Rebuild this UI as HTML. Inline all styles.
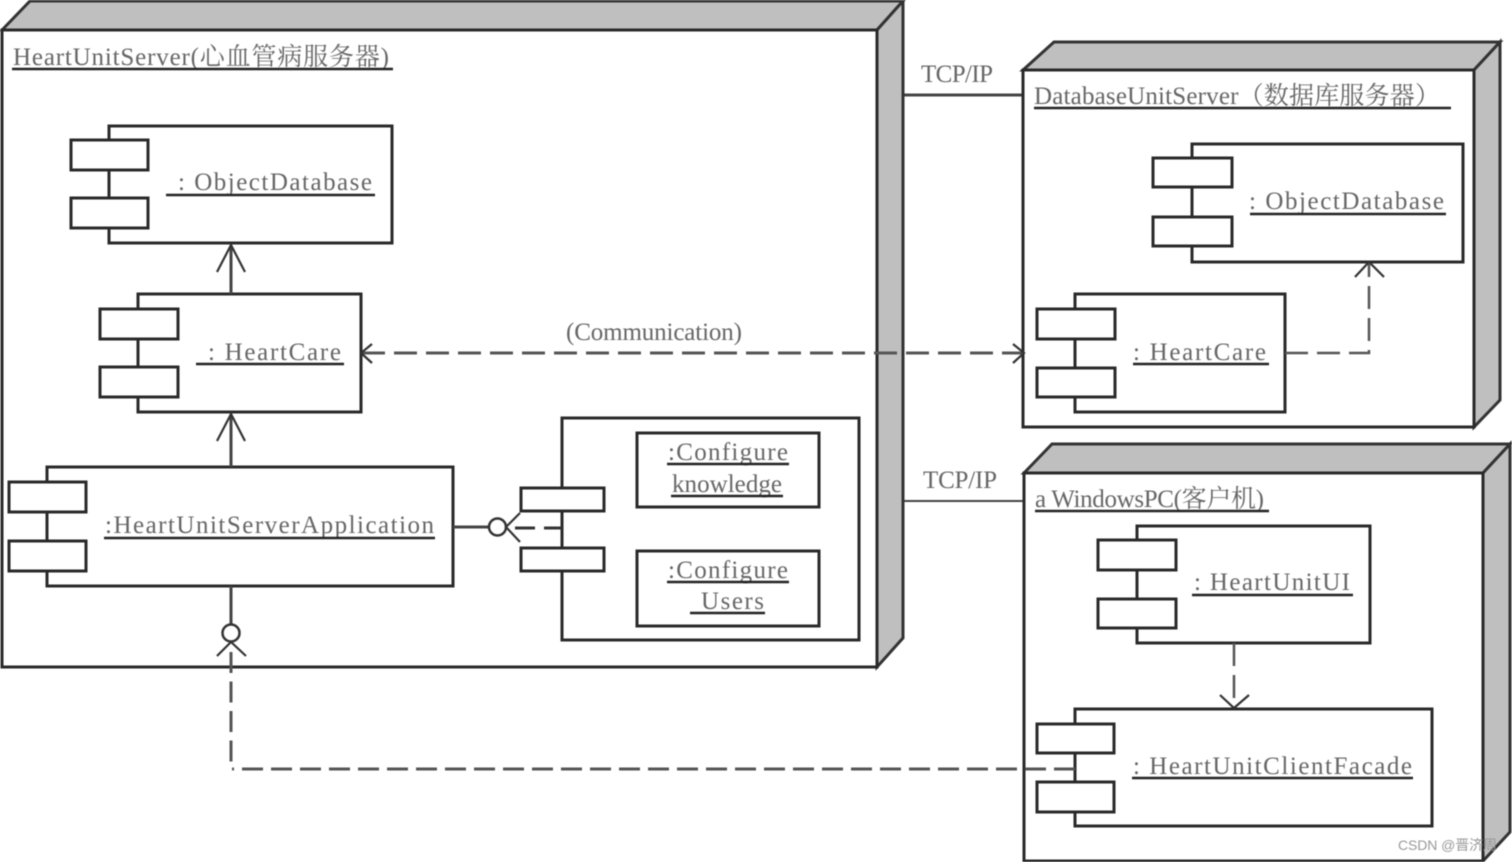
<!DOCTYPE html>
<html><head><meta charset="utf-8">
<style>
html,body{margin:0;padding:0;background:#fff;width:1512px;height:862px;overflow:hidden}
svg{display:block;filter:blur(0.45px)}
text{font-family:"Liberation Serif","Noto Serif CJK SC",serif;font-size:25px;fill:#666}
.n{fill:#bfbfbf;stroke:#333;stroke-width:3;stroke-linejoin:miter}
.f{fill:#fff;stroke:#2a2a2a;stroke-width:3}
.b{fill:#fff;stroke:#2a2a2a;stroke-width:3}
.l{fill:none;stroke:#444;stroke-width:3}
.t{fill:none;stroke:#333;stroke-width:2.2}
.d{fill:none;stroke:#555;stroke-width:3;stroke-dasharray:23 9}
.u{stroke:#222;stroke-width:2.6}
</style></head><body>
<svg width="1512" height="862" viewBox="0 0 1512 862" xmlns="http://www.w3.org/2000/svg">
<!-- connectors between nodes -->
<line class="l" x1="903" y1="95" x2="1023" y2="95"/>
<line class="l" x1="903" y1="501" x2="1024" y2="501" style="stroke-width:2"/>

<!-- Node 1 -->
<polygon class="n" points="2,30 30,1 903,1 877,30"/>
<polygon class="n" points="877,30 903,1 903,638 877,667"/>
<rect class="f" x="2" y="30" width="875" height="637"/>
<text x="13" y="65" textLength="376" lengthAdjust="spacing">HeartUnitServer(心血管病服务器)</text>
<line class="u" x1="12" y1="69" x2="393" y2="69"/>

<!-- C1 -->
<rect class="b" x="109" y="126" width="283" height="117"/>
<rect class="b" x="71" y="140" width="77" height="30"/>
<rect class="b" x="71" y="198" width="77" height="30"/>
<text x="178" y="190" textLength="194" lengthAdjust="spacing">: ObjectDatabase</text>
<line class="u" x1="166" y1="195" x2="375" y2="195"/>

<!-- C2 -->
<rect class="b" x="138" y="294" width="223" height="118"/>
<rect class="b" x="100" y="309" width="78" height="30"/>
<rect class="b" x="100" y="367" width="78" height="30"/>
<text x="208" y="360" textLength="133" lengthAdjust="spacing">: HeartCare</text>
<line class="u" x1="196" y1="364" x2="344" y2="364"/>

<!-- C3 -->
<rect class="b" x="47" y="467" width="406" height="119"/>
<rect class="b" x="9" y="482" width="77" height="30"/>
<rect class="b" x="9" y="541" width="77" height="30"/>
<text x="105" y="533" textLength="329" lengthAdjust="spacing">:HeartUnitServerApplication</text>
<line class="u" x1="104" y1="538" x2="435" y2="538"/>

<!-- C4 -->
<rect class="b" x="562" y="418" width="297" height="222"/>
<rect class="b" x="637" y="433" width="182" height="74"/>
<rect class="b" x="637" y="551" width="182" height="75"/>
<text x="668" y="460" textLength="120" lengthAdjust="spacing">:Configure</text>
<line class="u" x1="667" y1="464" x2="789" y2="464"/>
<text x="672" y="492" textLength="110" lengthAdjust="spacing">knowledge</text>
<line class="u" x1="671" y1="496" x2="783" y2="496"/>
<text x="668" y="578" textLength="120" lengthAdjust="spacing">:Configure</text>
<line class="u" x1="667" y1="582" x2="789" y2="582"/>
<text x="701" y="609" textLength="63" lengthAdjust="spacing">Users</text>
<line class="u" x1="690" y1="613" x2="765" y2="613"/>
<rect class="b" x="521" y="488" width="83" height="23"/>
<rect class="b" x="521" y="548" width="83" height="23"/>

<!-- lollipop C3-C4 -->
<line class="l" x1="453" y1="527" x2="489" y2="527"/>
<circle cx="497.500" cy="527" r="8.500" fill="#fff" stroke="#333" stroke-width="2.500"/>
<path class="t" d="M520 513 L506 527 L520 542"/>
<path d="M515 528 H535 M544 528 H562" fill="none" stroke="#333" stroke-width="3"/>

<!-- arrows within node 1 -->
<line class="l" x1="231" y1="294" x2="231" y2="245"/>
<path class="t" d="M217 272 L231 245 L245 272"/>
<line class="l" x1="231" y1="467" x2="231" y2="414"/>
<path class="t" d="M217 441 L231 414 L245 441"/>
<line class="l" x1="231" y1="586" x2="231" y2="625"/>
<circle cx="231" cy="633" r="8.500" fill="#fff" stroke="#333" stroke-width="2.500"/>
<path class="t" d="M217 656 L231 642 L246 656"/>

<!-- Node 2 -->
<polygon class="n" points="1023,70 1054,42 1500,42 1474,70"/>
<polygon class="n" points="1474,70 1500,42 1500,400 1474,427"/>
<rect class="f" x="1023" y="70" width="451" height="357"/>
<text x="1034" y="104" textLength="406" lengthAdjust="spacing">DatabaseUnitServer（数据库服务器）</text>
<line class="u" x1="1034" y1="108" x2="1451" y2="108"/>
<rect class="b" x="1192" y="144" width="271" height="118"/>
<rect class="b" x="1153" y="158" width="79" height="29"/>
<rect class="b" x="1153" y="217" width="79" height="29"/>
<text x="1249" y="209" textLength="195" lengthAdjust="spacing">: ObjectDatabase</text>
<line class="u" x1="1250" y1="214" x2="1446" y2="214"/>
<rect class="b" x="1075" y="294" width="210" height="118"/>
<rect class="b" x="1037" y="309" width="78" height="30"/>
<rect class="b" x="1037" y="368" width="78" height="29"/>
<text x="1133" y="360" textLength="133" lengthAdjust="spacing">: HeartCare</text>
<line class="u" x1="1133" y1="364" x2="1269" y2="364"/>
<path class="d" style="stroke-width:2.500" d="M1285 353 H1369 V264"/>
<path class="t" d="M1355 277 L1369 262 L1384 277"/>

<!-- Node 3 -->
<polygon class="n" points="1024,473 1052,444 1510,444 1483,473"/>
<polygon class="n" points="1483,473 1510,444 1510,832 1483,861"/>
<rect class="f" x="1024" y="473" width="459" height="388"/>
<text x="1035" y="507" textLength="229" lengthAdjust="spacing">a WindowsPC(客户机)</text>
<line class="u" x1="1035" y1="511" x2="1269" y2="511"/>
<rect class="b" x="1137" y="526" width="233" height="117"/>
<rect class="b" x="1098" y="540" width="78" height="30"/>
<rect class="b" x="1098" y="599" width="78" height="29"/>
<text x="1194" y="590" textLength="156" lengthAdjust="spacing">: HeartUnitUI</text>
<line class="u" x1="1192" y1="595" x2="1353" y2="595"/>
<rect class="b" x="1075" y="709" width="357" height="117"/>
<rect class="b" x="1037" y="724" width="77" height="29"/>
<rect class="b" x="1037" y="782" width="77" height="30"/>
<text x="1133" y="774" textLength="279" lengthAdjust="spacing">: HeartUnitClientFacade</text>
<line class="u" x1="1132" y1="778" x2="1413" y2="778"/>
<path class="d" style="stroke-width:2.500" d="M1234 643 V708"/>
<path class="t" d="M1220 695 L1234 708 L1249 695"/>

<!-- Long dashed connectors -->
<path class="d" style="stroke-dasharray:21 8.500" d="M231 652 V762"/>
<path class="d" style="stroke-dasharray:21 8" d="M1075 769 H232"/>
<path class="d" d="M362 353 H1024"/>
<path class="t" d="M372 344 L361 353 L372 363"/>
<path class="t" d="M1013 344 L1024 353 L1013 363"/>

<!-- Labels -->
<text x="921" y="82" textLength="72" lengthAdjust="spacing">TCP/IP</text>
<text x="923" y="488" textLength="74" lengthAdjust="spacing">TCP/IP</text>
<text x="566" y="340" textLength="176" lengthAdjust="spacing">(Communication)</text>
<text x="1398" y="850" textLength="99" lengthAdjust="spacing" style="font-family:'Liberation Sans','Noto Sans CJK SC',sans-serif;font-size:14px;fill:#999">CSDN @晋济周</text>
</svg>
</body></html>
